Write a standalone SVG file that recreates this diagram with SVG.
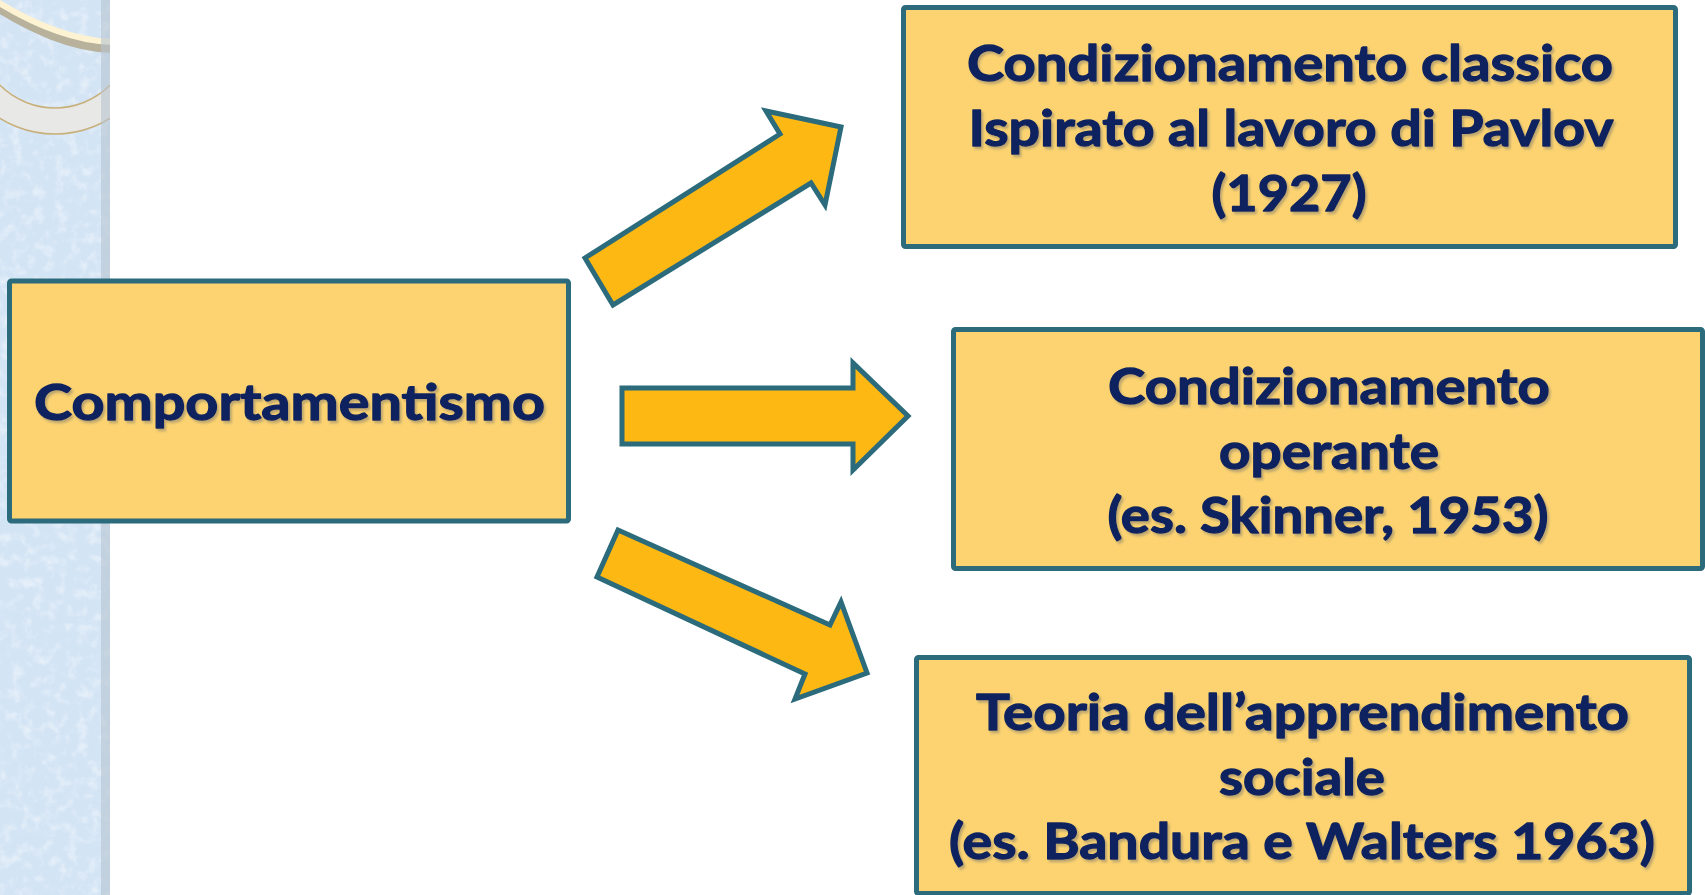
<svg xmlns="http://www.w3.org/2000/svg" width="1705" height="895" viewBox="0 0 1705 895">
<style>
.box{fill:#fcd370;stroke:#2b6b7b;stroke-width:5}
.arrow{fill:#fdb813;stroke:#2b6b7b;stroke-width:5;stroke-linejoin:miter}
.lbl{font-family:Lato,"Open Sans","Liberation Sans",sans-serif;font-weight:700;font-size:50px;fill:#0b215e;stroke:#0b215e;stroke-width:1.3;stroke-linejoin:round;text-anchor:middle;filter:url(#shadow)}
</style>
<defs>
<filter id="shadow" x="-5%" y="-20%" width="110%" height="140%">
<feDropShadow dx="2" dy="2.5" stdDeviation="1.3" flood-color="#6f6f6f" flood-opacity="0.45"/>
</filter>
<filter id="tex" x="0" y="0" width="100%" height="100%">
<feTurbulence type="fractalNoise" baseFrequency="0.09" numOctaves="3" seed="4" result="n"/>
<feColorMatrix in="n" type="matrix" values="0 0 0 0 1  0 0 0 0 1  0 0 0 0 1  0 0 0 1.6 -0.75" result="w"/>
<feComposite in="w" in2="SourceGraphic" operator="in"/>
</filter>
<clipPath id="stripClip"><rect x="0" y="0" width="110" height="895"/></clipPath>
</defs>
<rect x="0" y="0" width="1705" height="895" fill="#ffffff"/>
<g id="strip">
<rect x="0" y="0" width="110" height="895" fill="#d3e4f5"/>
<rect x="0" y="0" width="110" height="895" fill="#ffffff" filter="url(#tex)" opacity="0.7"/>
<g clip-path="url(#stripClip)">
<path d="M-4,6 C 30,27 70,47 114,48" fill="none" stroke="#b8b29c" stroke-width="10"/>
<path d="M-4,1 C 30,22 70,41 114,42" fill="none" stroke="#fdf3d2" stroke-width="6"/>
<circle cx="55" cy="30" r="91" fill="none" stroke="#e8e8e6" stroke-width="26"/>
<circle cx="55" cy="30" r="78" fill="none" stroke="#c8b07a" stroke-width="1.5"/>
<circle cx="55" cy="30" r="104" fill="none" stroke="#c8b07a" stroke-width="1.5"/>
</g>
<rect x="101" y="0" width="9" height="895" fill="#b7c4d0" opacity="0.6"/>
</g>
<g id="connectors">
<polygon class="arrow" points="585,258 613,305 811,183 825,205 841,127 766,111 780,134"/>
<polygon class="arrow" points="622,388 853,388 853,363 908,416 853,470 853,444 622,444"/>
<polygon class="arrow" points="618,530 597,577 805,674 795,699 867,673 841,602 830,625"/>
</g>
<g id="node-comportamentismo">
<rect class="box" x="9.5" y="281" width="559" height="240" rx="2"/>
<text class="lbl" x="289.5" y="420" textLength="511" lengthAdjust="spacingAndGlyphs">Comportamentismo</text>
</g>
<g id="node-classico">
<rect class="box" x="903.5" y="7.5" width="772" height="239" rx="2"/>
<text class="lbl" x="1290" y="81" textLength="646" lengthAdjust="spacingAndGlyphs">Condizionamento classico</text>
<text class="lbl" x="1291" y="146" textLength="645" lengthAdjust="spacingAndGlyphs">Ispirato al lavoro di Pavlov</text>
<text class="lbl" x="1289" y="211" textLength="155" lengthAdjust="spacingAndGlyphs">(1927)</text>
</g>
<g id="node-operante">
<rect class="box" x="953.5" y="329.5" width="749" height="239" rx="2"/>
<text class="lbl" x="1329" y="404" textLength="442" lengthAdjust="spacingAndGlyphs">Condizionamento</text>
<text class="lbl" x="1329" y="468.5" textLength="220" lengthAdjust="spacingAndGlyphs">operante</text>
<text class="lbl" x="1328" y="533" textLength="441" lengthAdjust="spacingAndGlyphs">(es. Skinner, 1953)</text>
</g>
<g id="node-sociale">
<rect class="box" x="916.5" y="657.5" width="773" height="236" rx="2"/>
<text class="lbl" x="1302.5" y="730" textLength="653" lengthAdjust="spacingAndGlyphs">Teoria dell’apprendimento</text>
<text class="lbl" x="1302" y="794.5" textLength="166" lengthAdjust="spacingAndGlyphs">sociale</text>
<text class="lbl" x="1302" y="859" textLength="706" lengthAdjust="spacingAndGlyphs">(es. Bandura e Walters 1963)</text>
</g>
</svg>
